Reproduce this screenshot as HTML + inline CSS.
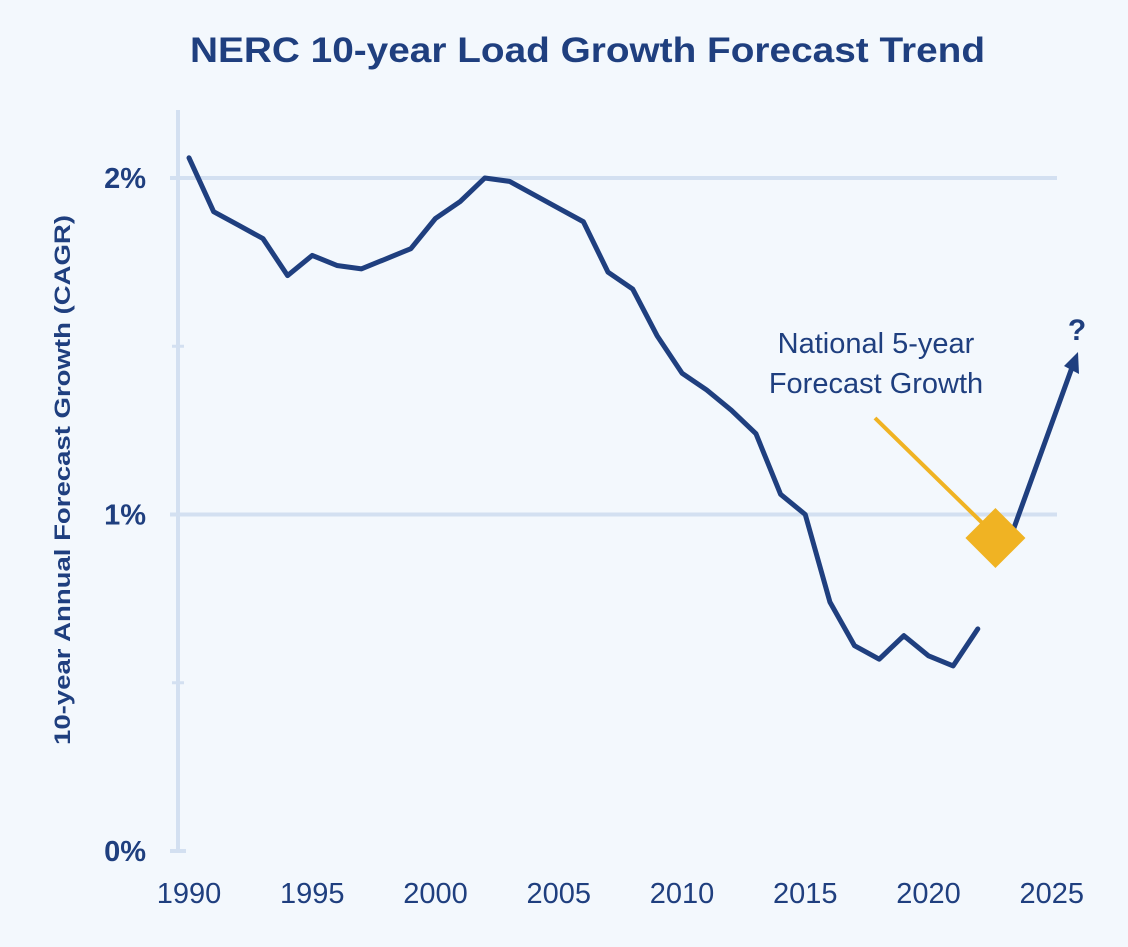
<!DOCTYPE html>
<html><head><meta charset="utf-8"><style>
html,body{margin:0;padding:0;background:#f3f8fd;}
svg{display:block;font-family:"Liberation Sans",sans-serif;}
</style></head><body>
<svg id="chart" width="1128" height="947" viewBox="0 0 1128 947">
<rect width="1128" height="947" fill="#f3f8fd"/>
<text x="190" y="62" font-size="35" font-weight="bold" fill="#1f3f7f" textLength="795" lengthAdjust="spacingAndGlyphs">NERC 10-year Load Growth Forecast Trend</text>
<text transform="translate(70,745) rotate(-90)" font-size="22" font-weight="bold" fill="#1f3f7f" textLength="530" lengthAdjust="spacingAndGlyphs">10-year Annual Forecast Growth (CAGR)</text>
<g id="axes"></g>
<g id="series"></g>
<g>
<text x="876" y="353" text-anchor="middle" font-size="29" fill="#1f3f7f">National 5-year</text>
<text x="876" y="393" text-anchor="middle" font-size="29" fill="#1f3f7f">Forecast Growth</text>
</g>
</svg>
<script>
const years=[1990,1991,1992,1993,1994,1995,1996,1997,1998,1999,2000,2001,2002,2003,2004,2005,2006,2007,2008,2009,2010,2011,2012,2013,2014,2015,2016,2017,2018,2019,2020,2021,2022];
const growth=[2.06,1.90,1.86,1.82,1.71,1.77,1.74,1.73,1.76,1.79,1.88,1.93,2.00,1.99,1.95,1.91,1.87,1.72,1.67,1.53,1.42,1.37,1.31,1.24,1.06,1.00,0.74,0.61,0.57,0.64,0.58,0.55,0.66];
const forecastYear=[2023];
const forecastValue=[0.93];
const xTicks=[1990,1995,2000,2005,2010,2015,2020,2025];
const yTicks=[0,1,2];
const yMinor=[0.5,1.5];
const NS="http://www.w3.org/2000/svg";
const x=v=>189+(v-1990)*24.65;
const y=v=>851-v*336.5;
function mk(t,a,p){const e=document.createElementNS(NS,t);for(const k in a)e.setAttribute(k,a[k]);p.appendChild(e);return e;}
const ax=document.getElementById('axes'),se=document.getElementById('series');
let e=mk('line',{x1:178,y1:110,x2:178,y2:851,stroke:'#d3e0f1','stroke-width':4},ax);


yTicks.forEach(v=>{
 if(v>0){const g=mk('line',{x1:170,y1:y(v),x2:1057,y2:y(v),stroke:'#d3e0f1','stroke-width':4},ax);
 
 }
 else{const g=mk('line',{x1:170,y1:y(v),x2:186,y2:y(v),stroke:'#d3e0f1','stroke-width':4},ax);
 
 }
 const t=mk('text',{x:146,y:y(v)+10,'text-anchor':'end','font-size':29,'font-weight':'bold',fill:'#1f3f7f'},ax);
 t.textContent=v+'%';
 
 
});
yMinor.forEach(v=>{const g=mk('line',{x1:172,y1:y(v),x2:184,y2:y(v),stroke:'#d3e0f1','stroke-width':3},ax);
 
 });
xTicks.forEach(v=>{const t=mk('text',{x:x(v),y:903,'text-anchor':'middle','font-size':29,fill:'#1f3f7f'},ax);
 t.textContent=v;
 
 });
const pts=years.map((yr,i)=>x(yr)+','+y(growth[i])).join(' ');
const l=mk('polyline',{points:pts,fill:'none',stroke:'#1f3f7f','stroke-width':5,'stroke-linejoin':'round','stroke-linecap':'round'},se);


const fx=x(forecastYear[0])-7,fy=y(forecastValue[0]);
const al=mk('line',{x1:875,y1:418,x2:fx-10,y2:fy-12,stroke:'#f0b323','stroke-width':4},se);


const ar=mk('line',{x1:fx+17,y1:fy-6,x2:1074,y2:362,stroke:'#1f3f7f','stroke-width':5,'stroke-linecap':'round'},se);


const ah=mk('polygon',{points:'1078,352 1079,374 1064,366',fill:'#1f3f7f'},se);


const q=mk('text',{x:1077,y:340,'text-anchor':'middle','font-size':30,'font-weight':'bold',fill:'#1f3f7f'},se);
q.textContent='?';


const d=mk('polygon',{points:`${fx},${fy-30} ${fx+30},${fy} ${fx},${fy+30} ${fx-30},${fy}`,fill:'#f0b323'},se);


</script>
</body></html>
